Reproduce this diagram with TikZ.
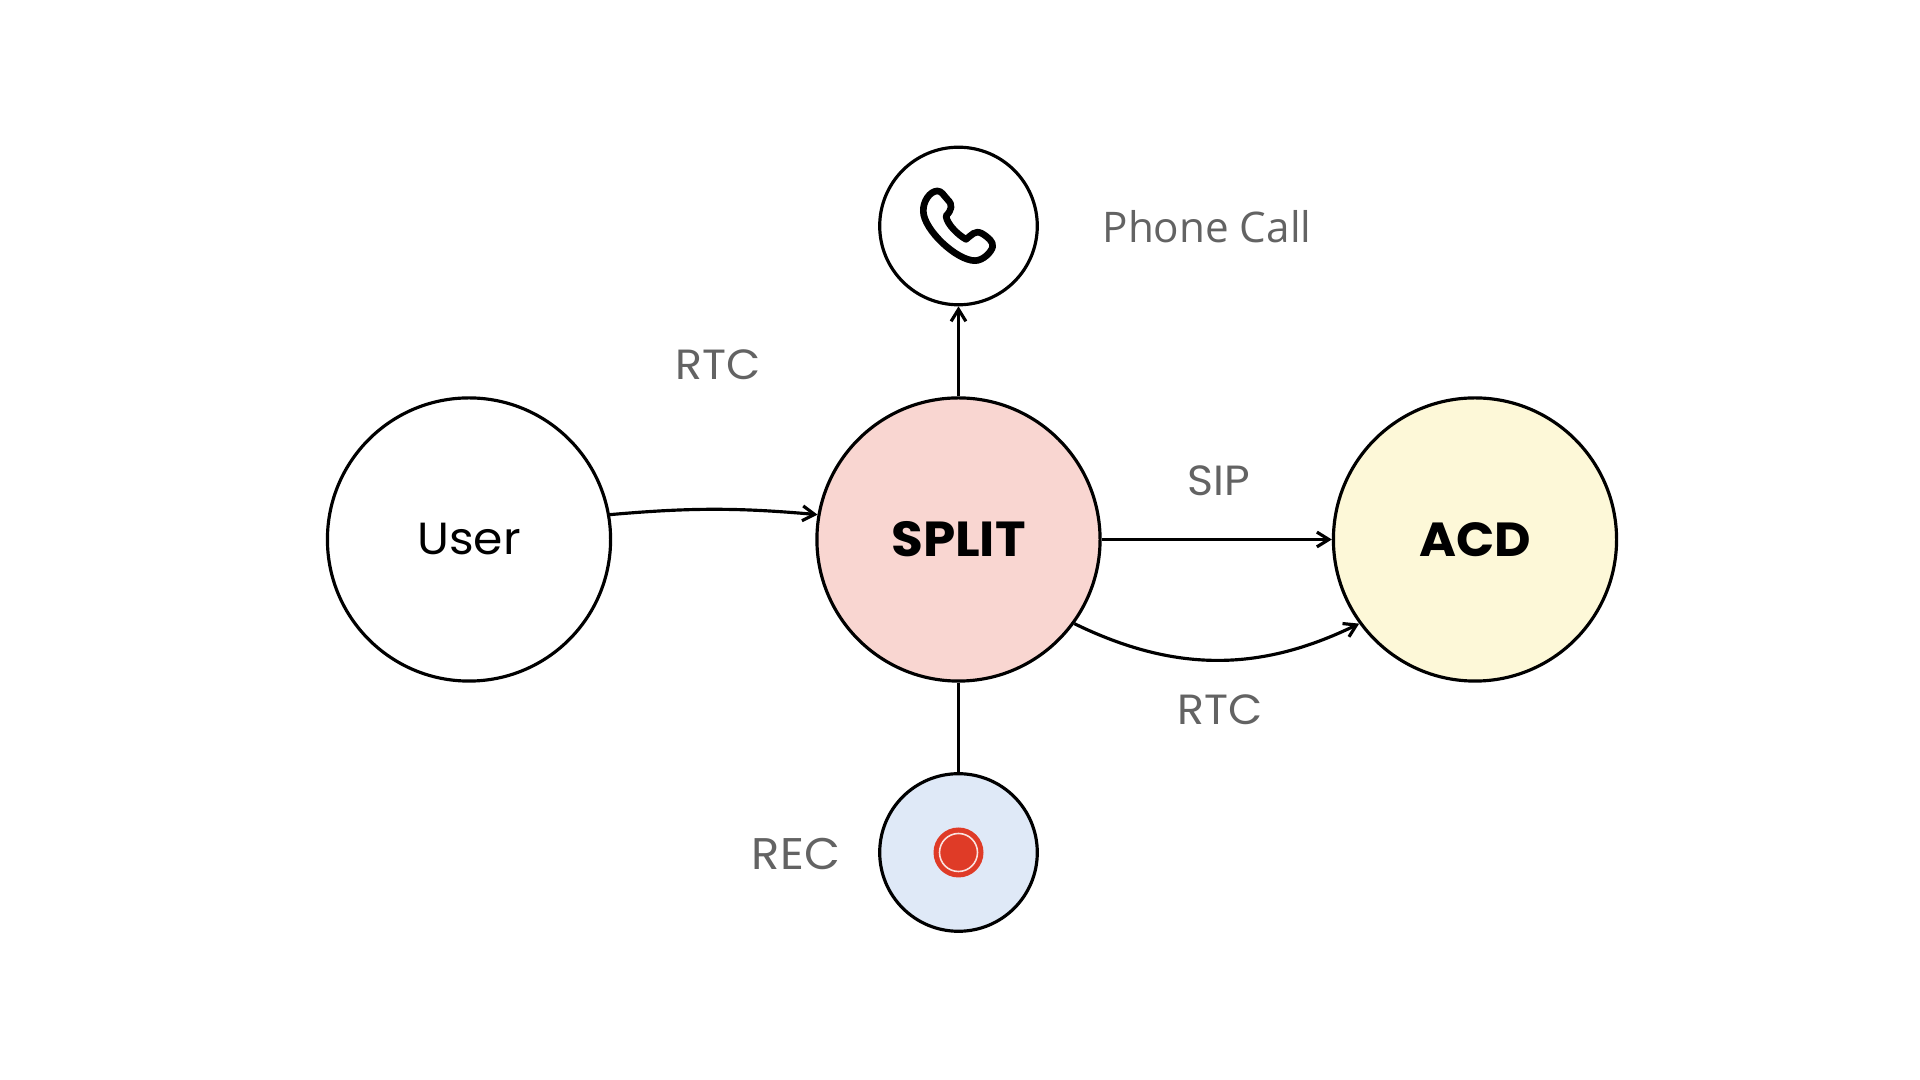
\documentclass[tikz,border=0pt]{standalone}
\usepackage{fontspec}
\usepackage{tikz}
\usetikzlibrary{arrows.meta}
\setmainfont{Poppins}[FakeStretch=1.05]
\newfontfamily\phonefont{Open Sans}
\definecolor{splitpink}{HTML}{F9D6D1}
\definecolor{acdyellow}{HTML}{FDF8D8}
\definecolor{recblue}{HTML}{DFE9F7}
\definecolor{recred}{HTML}{DF3B27}
\definecolor{labelgray}{HTML}{636363}
\tikzset{
  bigball/.style={circle,draw=black,line width=0.9pt,minimum size=2.83cm,inner sep=0pt,font=\fontsize{12.8}{15}\selectfont},
  boldball/.style={bigball,font=\fontsize{14}{16}\selectfont\bfseries},
  smallball/.style={circle,draw=black,line width=0.9pt,minimum size=1.575cm,inner sep=0pt},
  wire/.style={line width=0.9pt,draw=black},
  arrowwire/.style={wire,-{Straight Barb[length=3.4pt,width=4.2pt]}},
  tag/.style={text=labelgray,inner sep=0pt,font=\fontsize{12}{14}\selectfont}
}

\begin{document}
\begin{tikzpicture}[x=0.01cm,y=-0.01cm]
    \useasboundingbox (0,0) rectangle (1920,1080);

    % the big circles
    \node (User) [bigball] at (469,539.5) {User};
    \node (Split) [boldball,fill=splitpink] at (958.5,539.5) {SPLIT};
    \node (Acd) [boldball,fill=acdyellow,font=\fontsize{13.6}{16}\selectfont\bfseries] at (1475,539.5) {ACD};

    % the small circles
    \node (Phone) [smallball] at (958.5,226) {};
    \node (Rec) [smallball,fill=recblue] at (958.5,852.5) {};

    % connectors
    \draw [arrowwire] (User.10) to[bend left=5] (Split.170);
    \draw [arrowwire] (Split.north) -- (Phone.south);
    \draw [wire] (Split.south) -- (Rec.north);
    \draw [arrowwire] (Split.east) -- (Acd.west);
    \draw [arrowwire] (Split.-36) to[bend right=26] (Acd.216);

    % labels
    \node (LRtcUser) [tag] at (718,365) {RTC};
    \node (LSip) [tag] at (1219,481) {SIP};
    \node (LRtcAcd) [tag] at (1220,710) {RTC};
    \node (LRec) [tag,font=\fontsize{12.6}{14}\selectfont] at (796,854) {REC};
    \node (LPhone) [tag,font=\phonefont\fontsize{12}{14}\selectfont] at (1207,227) {Phone Call};

    % record icon
    \fill [recred] (Rec.center) circle (25);
    \draw [white!85!recred,line width=0.45pt] (Rec.center) circle (19);

    % phone icon
    \begin{scope}[shift={(860,130)},scale=1/3]
        \draw [line width=1.9pt,line join=round]
        (232,183) .. controls (245,183) and (250,195) .. (262,208)
        .. controls (280,225) and (275,240) .. (258,258)
        .. controls (262,285) and (295,315) .. (318,328)
        .. controls (335,315) and (345,300) .. (365,310)
        .. controls (385,322) and (400,335) .. (398,350)
        .. controls (395,365) and (370,392) .. (345,392)
        .. controls (290,392) and (192,300) .. (190,245)
        .. controls (188,215) and (210,183) .. (232,183) -- cycle;
    \end{scope}
\end{tikzpicture}
\end{document}
